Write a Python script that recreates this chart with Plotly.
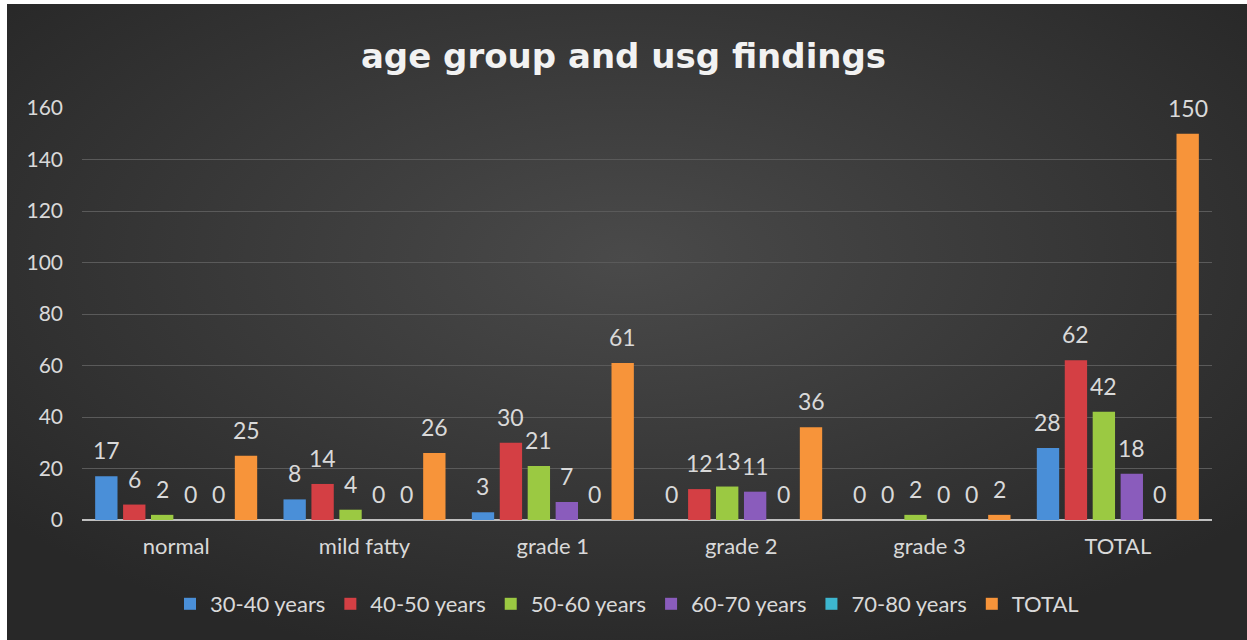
import base64
import plotly.graph_objects as go

categories = ["normal", "mild fatty", "grade 1", "grade 2", "grade 3", "TOTAL"]
series_names = ["30-40 years", "40-50 years", "50-60 years", "60-70 years", "70-80 years", "TOTAL"]
v_30_40 = [17, 8, 3, 0, 0, 28]
v_40_50 = [6, 14, 30, 12, 0, 62]
v_50_60 = [2, 4, 21, 13, 2, 42]
v_60_70 = [0, 0, 7, 11, 0, 18]
v_70_80 = [0, 0, 0, 0, 0, 0]
v_total = [25, 26, 61, 36, 2, 150]
y_ticks = [0, 20, 40, 60, 80, 100, 120, 140, 160]

series_values = [v_30_40, v_40_50, v_50_60, v_60_70, v_70_80, v_total]
colors = ["#4a8fd8", "#d43f44", "#9bc942", "#8a5cbc", "#3db6cf", "#f7943a"]

W, H = 1247, 640
ML, MR, MT, MB = 82, 35, 108, 120
pw, ph = W - ML - MR, H - MT - MB
BARGAP, GROUPGAP = 0.11, 0.2

svg = (
    '<svg xmlns="http://www.w3.org/2000/svg" width="1240" height="636" viewBox="0 0 1240 636" preserveAspectRatio="none">'
    '<defs><radialGradient id="g" cx="50%" cy="40%" r="65%">'
    '<stop offset="0%" stop-color="#4a4a4a"/>'
    '<stop offset="100%" stop-color="#282828"/>'
    '</radialGradient></defs>'
    '<rect width="1240" height="636" fill="url(#g)"/></svg>'
)
src = "data:image/svg+xml;base64," + base64.b64encode(svg.encode()).decode()

fig = go.Figure()
font_family = "Lato, 'Open Sans', sans-serif"
n = len(series_names)
slot = pw / len(categories) * (1 - BARGAP) / n
annotations = []
for i, (name, vals, col) in enumerate(zip(series_names, series_values, colors)):
    fig.add_trace(go.Bar(
        name=name, x=categories, y=vals,
        marker=dict(color=col, line=dict(width=0)),
    ))
    for cat, v in zip(categories, vals):
        annotations.append(dict(
            x=cat, y=v, xref="x", yref="y", text=str(v), showarrow=False,
            xanchor="center", yanchor="bottom", xshift=(i - (n - 1) / 2) * slot, yshift=10,
            font=dict(color="#d9d9d9", size=23, family=font_family),
        ))

fig.update_layout(
    width=W, height=H,
    margin=dict(l=ML, r=MR, t=MT, b=MB),
    paper_bgcolor="white",
    plot_bgcolor="rgba(0,0,0,0)",
    barmode="group", bargap=BARGAP, bargroupgap=GROUPGAP,
    font=dict(family=font_family, color="#d9d9d9"),
    title=dict(text="age group and usg findings", x=0.5, xanchor="center",
               y=1 - 56 / H, yanchor="middle",
               font=dict(size=34, color="#f2f2f2", family="'DejaVu Sans', sans-serif", weight="bold")),
    xaxis=dict(showgrid=False, showline=False, ticks="", tickfont=dict(size=22, color="#d9d9d9"),
               ticklabelstandoff=11),
    yaxis=dict(range=[0, 160], tickvals=y_ticks, showgrid=True, gridcolor="#5a5a5a", gridwidth=1,
               zeroline=True, zerolinecolor="#bfbfbf", zerolinewidth=2,
               tickfont=dict(size=21, color="#d9d9d9"), ticklabelstandoff=18),
    legend=dict(orientation="h", x=(627 - ML) / pw, xanchor="center", y=-(604 - 520) / ph, yanchor="middle",
                font=dict(size=22, color="#d9d9d9"), itemwidth=30, traceorder="normal",
                bgcolor="rgba(0,0,0,0)"),
    annotations=annotations,
    images=[dict(source=src, xref="paper", yref="paper",
                 x=(7 - ML) / pw, y=(H - MB - 4) / ph, sizex=1240 / pw, sizey=636 / ph,
                 xanchor="left", yanchor="top", sizing="stretch", layer="below")],
    showlegend=True,
)

fig.write_html("out.html")
